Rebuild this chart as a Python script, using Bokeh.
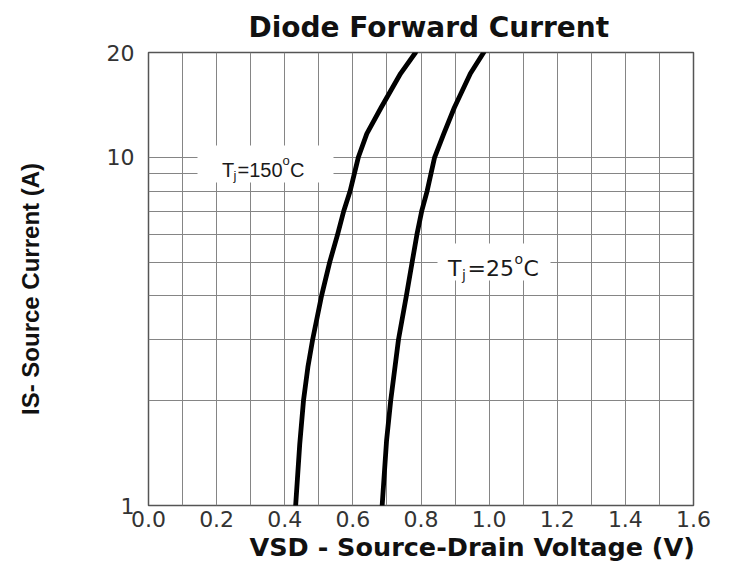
import math
from bokeh.plotting import figure
from bokeh.models import Range1d, FixedTicker, Label, BoxAnnotation, PrintfTickFormatter, Title
from bokeh.embed import file_html
from bokeh.resources import INLINE

# ---------------- data ----------------
i_150 = [1.0, 1.5, 2.0, 2.5, 3.0, 4.0, 5.0, 6.0, 7.0, 8.0, 10.0, 11.7, 13.9, 17.4, 20.0]
v_150 = [0.432, 0.444, 0.455, 0.468, 0.482, 0.508, 0.532, 0.555, 0.573, 0.592, 0.616, 0.641, 0.683, 0.740, 0.784]
i_25 = [1.0, 1.54, 2.0, 3.0, 4.0, 5.0, 6.0, 7.0, 8.0, 10.0, 11.7, 13.9, 17.4, 20.0]
v_25 = [0.686, 0.699, 0.711, 0.734, 0.757, 0.774, 0.788, 0.802, 0.818, 0.840, 0.867, 0.898, 0.945, 0.984]

x_ticks = [0.0, 0.2, 0.4, 0.6, 0.8, 1.0, 1.2, 1.4, 1.6]
x_grid = [0.1, 0.2, 0.3, 0.4, 0.5, 0.6, 0.7, 0.8, 0.9, 1.0, 1.1, 1.2, 1.3, 1.4, 1.5]
y_ticks = [1, 10, 20]
y_tick_labels = {1: "1", 10: "10", 20: "20"}
y_grid = [2, 3, 4, 5, 6, 7, 8, 9, 10]

title_text = "Diode Forward Current"
x_title = "VSD - Source-Drain Voltage (V)"
y_title = "IS- Source Current (A)"

# ---------------- layout ----------------
W, H = 729, 568
FL, FR, FT, FB = 148, 693, 52, 505   # frame edges on the canvas (px)
X0, X1 = 0.0, 1.6
Y0, Y1 = 1.0, 20.0

p = figure(width=W, height=H, output_backend="svg", toolbar_location=None,
           x_range=Range1d(X0, X1), y_range=Range1d(Y0, Y1), y_axis_type="log",
           min_border_left=FL, min_border_right=W - FR, min_border_top=FT,
           min_border_bottom=H - FB, background_fill_color="white",
           border_fill_color="white")

p.outline_line_color = "#555555"
p.outline_line_width = 1.5

# canvas px -> data (used only to place the curve labels)
def vx(px):
    return X0 + (px - FL) / (FR - FL) * (X1 - X0)

def iy(py):
    frac = (FB - py) / (FB - FT)
    return 10 ** (math.log10(Y0) + frac * (math.log10(Y1) - math.log10(Y0)))

# axes
for ax in (p.xaxis[0], p.yaxis[0]):
    ax.axis_line_color = None
    ax.major_tick_line_color = None
    ax.minor_tick_line_color = None
    ax.major_label_text_font = "DejaVu Sans"
    ax.major_label_text_font_size = "22px"
    ax.major_label_text_color = "#333333"

p.xaxis.ticker = FixedTicker(ticks=x_ticks)
p.xaxis.formatter = PrintfTickFormatter(format="%.1f")
p.xaxis.major_label_standoff = -1
p.yaxis.ticker = FixedTicker(ticks=y_ticks)
p.yaxis.major_label_overrides = y_tick_labels
p.yaxis.major_label_standoff = 8

# trailing no-break spaces nudge the centred label down to the reference position
p.yaxis.axis_label = y_title + "\u00a0\u00a0\u00a0"
p.yaxis.axis_label_standoff = 60
p.yaxis.axis_label_text_font = "Liberation Sans"
p.yaxis.axis_label_text_font_size = "24px"
p.yaxis.axis_label_text_font_style = "bold"
p.yaxis.axis_label_text_color = "#111111"

p.xgrid.ticker = FixedTicker(ticks=x_grid)
p.ygrid.ticker = FixedTicker(ticks=y_grid)
for g in (p.xgrid[0], p.ygrid[0]):
    g.grid_line_color = "#858585"
    g.grid_line_width = 1

# titles (outside the frame)
p.title.text = title_text
p.title.text_font = "DejaVu Sans"
p.title.text_font_size = "28px"
p.title.text_font_style = "bold"
p.title.text_color = "#111111"
p.title.align = "left"
p.title.offset = 100
p.title.standoff = 17

p.add_layout(Title(text=x_title, align="left", offset=101, standoff=0,
                   text_font="DejaVu Sans", text_font_size="25.5px",
                   text_font_style="bold", text_color="#111111"), "below")

# curves
p.line(v_150, i_150, line_color="black", line_width=4.8, line_join="round", line_cap="round")
p.line(v_25, i_25, line_color="black", line_width=4.8, line_join="round", line_cap="round")

# white boxes behind the curve labels
p.add_layout(BoxAnnotation(left=vx(197), right=vx(333), top=iy(145), bottom=iy(182),
                           fill_color="white", fill_alpha=1.0, line_color=None))
p.add_layout(BoxAnnotation(left=vx(437), right=vx(550), top=iy(243), bottom=iy(280),
                           fill_color="white", fill_alpha=1.0, line_color=None))

def lab(text, px, py, size, font="Liberation Sans", style="normal", color="#1a1a1a"):
    p.add_layout(Label(x=vx(px), y=iy(py), text=text, text_font=font,
                       text_font_size=f"{size}px", text_font_style=style,
                       text_baseline="alphabetic", text_align="left",
                       text_color=color))

# T_j = 150 °C
lab("T", 221.5, 169.5, 20)
lab("j", 233, 175, 13)
lab("=150", 237, 169.5, 20)
lab("o", 282, 160, 13)
lab("C", 289.5, 169.5, 20)

# T_j = 25 °C
lab("T", 447.5, 268, 22, font="DejaVu Sans")
lab("j", 461.5, 274.5, 14, font="DejaVu Sans")
lab("=25", 467, 268, 22, font="DejaVu Sans")
lab("o", 514, 258.5, 14, font="DejaVu Sans")
lab("C", 523, 268, 22, font="DejaVu Sans")

open("out.html", "w").write(file_html(p, INLINE))
